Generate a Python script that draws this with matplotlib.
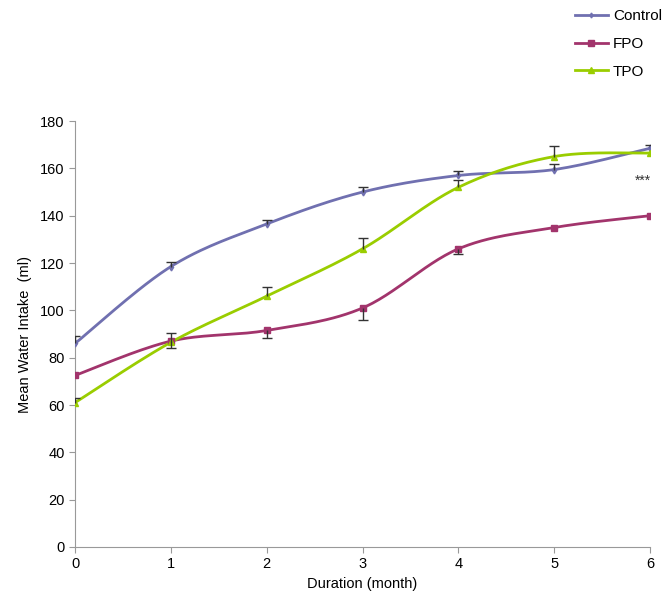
import numpy as np
import matplotlib
matplotlib.use('Agg')
import matplotlib.pyplot as plt
from matplotlib.lines import Line2D

plt.rcParams['font.family'] = ['Liberation Sans', 'DejaVu Sans']
plt.rcParams['font.size'] = 10.5

months = [0, 1, 2, 3, 4, 5, 6]

control = [86, 118.5, 136.5, 150, 157, 159.5, 168.5]
control_err = [3, 2, 1.5, 2, 2, 2.5, 1.5]     # plus direction

fpo = [72.5, 87, 91.5, 101, 126, 135, 140]
fpo_err = [0, -3, -3, -5, -2, 0, 0]            # minus direction

tpo = [61, 86.5, 106, 126, 152, 165, 166.5]
tpo_err = [2, 4, 4, 4.5, 3, 4.5, 0]           # plus direction

colors = {'Control': '#7070B0', 'FPO': '#A2346C', 'TPO': '#9ACD00'}


def smooth(x, y, n=30):
    # excel style smoothed line (bezier, tension 1/6)
    x = np.asarray(x, float)
    y = np.asarray(y, float)
    px = np.concatenate([[x[0]], x, [x[-1]]])
    py = np.concatenate([[y[0]], y, [y[-1]]])
    xs, ys = [], []
    t = np.linspace(0, 1, n)
    for i in range(len(x) - 1):
        p0 = np.array([px[i + 1], py[i + 1]])
        p3 = np.array([px[i + 2], py[i + 2]])
        p1 = p0 + (p3 - np.array([px[i], py[i]])) / 6
        p2 = p3 - (np.array([px[i + 3], py[i + 3]]) - p0) / 6
        b = ((1 - t) ** 3)[:, None] * p0 + (3 * (1 - t) ** 2 * t)[:, None] * p1 \
            + (3 * (1 - t) * t ** 2)[:, None] * p2 + (t ** 3)[:, None] * p3
        xs.extend(b[:, 0])
        ys.extend(b[:, 1])
    return xs, ys


fig = plt.figure(figsize=(6.71, 6.05), dpi=100)
ax = fig.add_axes([0.1118, 0.0959, 0.857, 0.704])

series = [
    ('Control', control, control_err, 'd', 3.5),
    ('FPO', fpo, fpo_err, 's', 5),
    ('TPO', tpo, tpo_err, '^', 5),
]

handles = []
for name, vals, err, mk, ms in series:
    c = colors[name]
    sx, sy = smooth(months, vals)
    ax.plot(sx, sy, color=c, lw=2, zorder=3)
    ax.plot(months, vals, ls='none', marker=mk, ms=ms, color=c, zorder=4)
    # one-sided error bars with a single cap at the tip
    m = np.array(err) != 0
    xe = np.array(months)[m]
    y0 = np.array(vals)[m]
    y1 = y0 + np.array(err)[m]
    ax.vlines(xe, y0, y1, color='#333333', lw=1, zorder=5)
    ax.plot(xe, y1, ls='none', marker='_', ms=7, mew=1, color='#333333', zorder=5)
    handles.append(Line2D([0], [0], color=c, lw=2, marker=mk, ms=ms - 1, label=name))

ax.text(5.93, 152, '***', ha='center', va='bottom', fontsize=10, color='#333333',
        clip_on=False)

ax.set_xlim(0, 6)
ax.set_ylim(0, 180)
ax.set_xticks(months)
ax.set_yticks(np.arange(0, 181, 20))
ax.set_xlabel('Duration (month)', labelpad=4)
ax.set_ylabel('Mean Water Intake  (ml)', labelpad=6)

for s in ['top', 'right']:
    ax.spines[s].set_visible(False)
for s in ['left', 'bottom']:
    ax.spines[s].set_color('#999999')
ax.tick_params(axis='both', color='#999999', direction='out', length=4)

fig.legend(handles=handles, loc='upper right', bbox_to_anchor=(1.0, 1.0),
           frameon=False, handlelength=2.2, handletextpad=0.3, labelspacing=0.9,
           borderaxespad=0.2, fontsize=11)

fig.savefig('out.png', dpi=100)
